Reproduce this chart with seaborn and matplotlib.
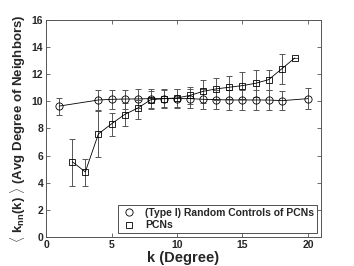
import numpy as np
import matplotlib
matplotlib.use("Agg")
import matplotlib.pyplot as plt
from matplotlib.lines import Line2D
import seaborn as sns

# ==================== data ====================
rand_k = [1, 4, 5, 6, 7, 8, 9, 10, 11, 12, 13, 14, 15, 16, 17, 18, 20]
rand_knn = [9.65, 10.1, 10.15, 10.17, 10.18, 10.2, 10.2, 10.2, 10.2, 10.15, 10.13,
            10.1, 10.1, 10.1, 10.1, 10.05, 10.2]
rand_err = [0.63, 0.77, 0.72, 0.7, 0.7, 0.7, 0.72, 0.7, 0.72, 0.75, 0.72,
            0.75, 0.75, 0.75, 0.72, 0.7, 0.8]

pcn_k = [2, 3, 4, 5, 6, 7, 8, 9, 10, 11, 12, 13, 14, 15, 16, 17, 18, 19]
pcn_knn = [5.55, 4.8, 7.6, 8.34, 9.03, 9.5, 10.12, 10.2, 10.25, 10.44, 10.74, 10.92,
           11.04, 11.16, 11.33, 11.6, 12.4, 13.2]
pcn_err_lo = [1.8, 1.05, 1.7, 0.92, 0.82, 0.8, 0.65, 0.65, 0.65, 0.6, 0.85, 0.8,
              0.85, 1.0, 1.0, 0.8, 1.1, 0.0]
pcn_err_hi = [1.68, 0.94, 1.68, 0.82, 0.84, 0.57, 0.65, 0.65, 0.65, 0.6, 0.85, 0.8,
              0.85, 1.0, 1.0, 0.7, 1.06, 0.0]

x_ticks = [0, 5, 10, 15, 20]
y_ticks = [0, 2, 4, 6, 8, 10, 12, 14, 16]
series_names = ["(Type I) Random Controls of PCNs", "PCNs"]

# ==================== style ====================
sns.set_style("ticks")
plt.rcParams["font.family"] = ["Liberation Sans", "DejaVu Sans"]
plt.rcParams["font.weight"] = "bold"
plt.rcParams["mathtext.fontset"] = "custom"
plt.rcParams["mathtext.rm"] = "Liberation Sans:bold"
plt.rcParams["mathtext.bf"] = "Liberation Sans:bold"
plt.rcParams["mathtext.it"] = "Liberation Sans:bold"

fig = plt.figure(figsize=(3.54, 2.66), dpi=100)
ax = fig.add_axes([0.13, 0.109, 0.777, 0.816])

err_col = "#555555"
ax.errorbar(rand_k, rand_knn, yerr=rand_err, fmt="none", ecolor=err_col,
            elinewidth=0.7, capsize=2, capthick=0.7, zorder=2)
ax.errorbar(pcn_k, pcn_knn, yerr=[pcn_err_lo, pcn_err_hi], fmt="none", ecolor=err_col,
            elinewidth=0.7, capsize=2, capthick=0.7, zorder=2)

sns.lineplot(x=rand_k, y=rand_knn, ax=ax, color="black", linewidth=0.6,
             marker="o", markersize=5.2, markerfacecolor="none", markeredgecolor="black",
             markeredgewidth=0.6, legend=False, zorder=3)
sns.lineplot(x=pcn_k, y=pcn_knn, ax=ax, color="black", linewidth=0.6,
             marker="s", markersize=4, markerfacecolor="none", markeredgecolor="black",
             markeredgewidth=0.6, legend=False, zorder=3)

ax.set_xlim(0, 21)
ax.set_ylim(0, 16)
ax.set_xticks(x_ticks)
ax.set_yticks(y_ticks)
ax.tick_params(direction="in", length=3, width=0.6, labelsize=7.5, top=True, right=True,
               pad=2, color="#555555")
for lab in ax.get_xticklabels() + ax.get_yticklabels():
    lab.set_fontweight("bold")
for sp in ax.spines.values():
    sp.set_linewidth(0.7)
    sp.set_color("#555555")

ax.set_xlabel("k (Degree)", fontsize=10.5, fontweight="bold", labelpad=1)
ax.set_ylabel(r"$\langle\ \mathbf{k_{nn}(k)}\ \rangle$ (Avg Degree of Neighbors)",
              fontsize=9.5, fontweight="bold", labelpad=3)

# legend: markers only, no line
handles = [
    Line2D([], [], linestyle="none", marker="o", markersize=5.2, markerfacecolor="none",
           markeredgecolor="black", markeredgewidth=0.6),
    Line2D([], [], linestyle="none", marker="s", markersize=4, markerfacecolor="none",
           markeredgecolor="black", markeredgewidth=0.6),
]
leg = ax.legend(handles, series_names, loc="lower right", frameon=True,
                fancybox=False, edgecolor="#333333", framealpha=1, borderpad=0.25,
                handletextpad=0.8, labelspacing=0.25, borderaxespad=0.4,
                handlelength=1.6, prop={"weight": "bold", "size": 7.5})
leg.get_frame().set_linewidth(0.6)

fig.savefig("out.png", dpi=100)
plt.close()
